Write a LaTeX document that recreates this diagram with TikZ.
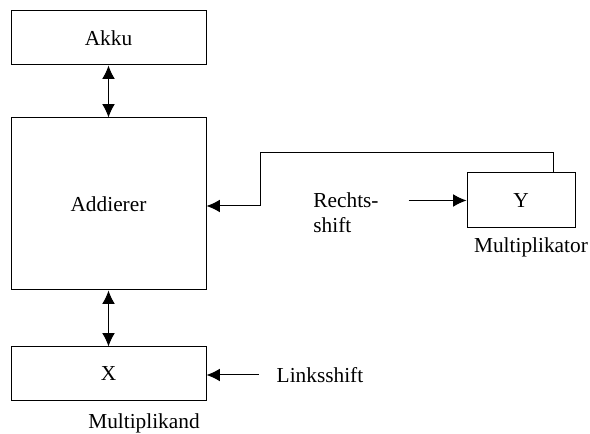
\documentclass[tikz,border=0pt]{standalone}
\usepackage{fontspec}
\setmainfont{Liberation Serif}
\usetikzlibrary{arrows.meta}
\begin{document}
\begin{tikzpicture}[x=0.75pt,y=-0.75pt,font=\fontsize{16}{19}\selectfont]
    \tikzstyle{block}=[draw,line width=0.75pt,inner sep=0pt]
    \tikzstyle{pfeil}=[line width=0.75pt,-{Latex[length=10pt,width=9.5pt]}]
    \tikzstyle{dpfeil}=[line width=0.75pt,{Latex[length=10pt,width=9.5pt]}-{Latex[length=10pt,width=9.5pt]}]
    \useasboundingbox (0,0) rectangle (590,434);
    % Register
    \node[block,minimum width=146.25pt,minimum height=40.5pt] (akku) at (108.5,38) {Akku};
    \node[block,minimum width=146.25pt,minimum height=129pt] (addierer) at (108.5,204) {Addierer};
    \node[block,minimum width=146.25pt,minimum height=40.5pt,text depth=-3pt] (x) at (108.5,374) {X};
    \node[block,minimum width=81pt,minimum height=41.25pt] (y) at (521,200.5) {Y};
    % Beschriftungen
    \node (mkand) at (144,423) {Multiplikand};
    \node (mkator) at (531,247) {Multiplikator};
    \node (lshift) at (320,375) {Linksshift};
    \node[align=left] (rshift) at (346,213) {Rechts-\\shift};
    % Verbindungen
    \draw[dpfeil] (akku) -- (addierer);
    \draw[dpfeil] (addierer) -- (x);
    \draw[pfeil,shorten <=10pt] (lshift.west) -- (lshift.west -| x.east);
    \draw[pfeil,shorten <=19pt] (rshift.east |- y.west) -- (y.west);
    \draw[pfeil] ([xshift=24pt]y.north) |- (260,153) |- ([yshift=-1.5pt]addierer.east);
\end{tikzpicture}
\end{document}
